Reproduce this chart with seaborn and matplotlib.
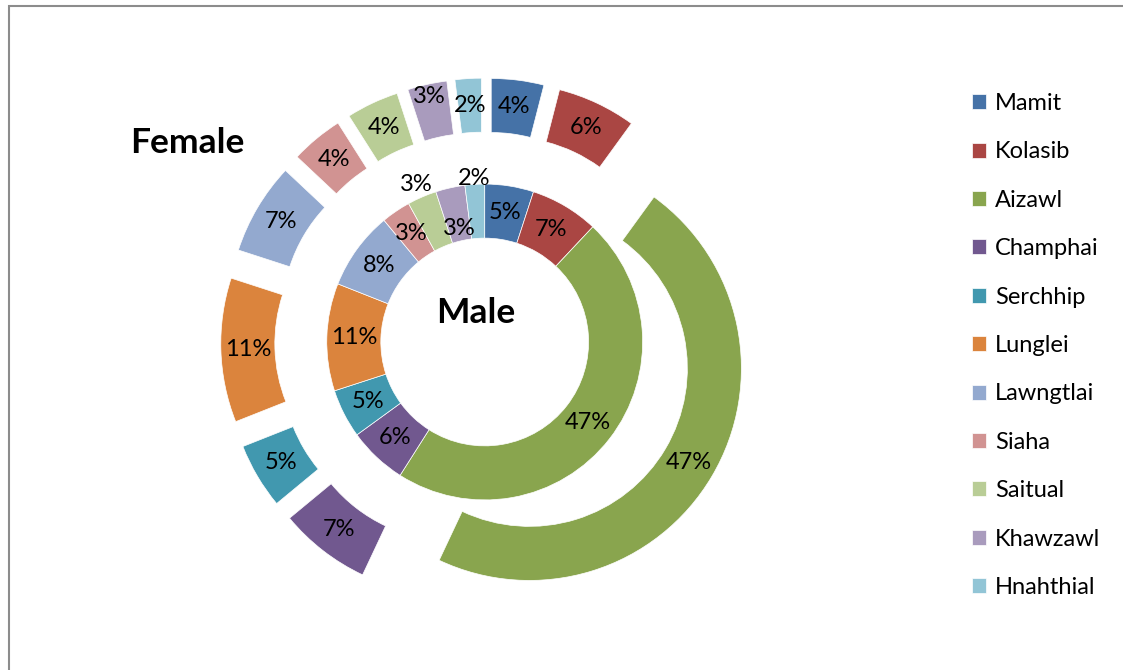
import matplotlib
matplotlib.use("Agg")
import matplotlib.pyplot as plt
import seaborn as sns
from matplotlib.patches import Rectangle

# district shares (%)
districts = ["Mamit", "Kolasib", "Aizawl", "Champhai", "Serchhip", "Lunglei",
             "Lawngtlai", "Siaha", "Saitual", "Khawzawl", "Hnahthial"]
male_pct = [5, 7, 47, 6, 5, 11, 8, 3, 3, 3, 2]
female_pct = [4, 6, 47, 7, 5, 11, 7, 4, 4, 3, 2]
colours = ["#4572A7", "#AA4643", "#89A54E", "#71588F", "#4198AF", "#DB843D",
           "#93A9CF", "#D19392", "#B9CD96", "#A99BBD", "#92C5D6"]

sns.set_theme(style="white")
plt.rcParams["font.family"] = ["Lato", "DejaVu Sans"]
palette = sns.color_palette(colours)

W, H = 1123, 670
fig = plt.figure(figsize=(W / 100, H / 100), dpi=100)
ax = fig.add_axes([0, 0, 1, 1])

scale = 212.0          # pixels per unit radius
cx, cy = 484.7, 342.0  # donut centre in pixels (from top left)

label_font = dict(fontsize=17, color="black")

# outer ring = Female, exploded
outer_w, _, outer_t = ax.pie(
    female_pct, radius=1.0, colors=palette, startangle=90, counterclock=False,
    explode=[0.245] * len(female_pct), autopct="%.0f%%", pctdistance=0.873,
    wedgeprops=dict(width=0.255, edgecolor="white", linewidth=0.5),
    textprops=label_font)

# inner ring = Male
inner_w, _, inner_t = ax.pie(
    male_pct, radius=0.745, colors=palette, startangle=90, counterclock=False,
    autopct="%.0f%%", pctdistance=0.829,
    wedgeprops=dict(width=0.255, edgecolor="white", linewidth=0.5),
    textprops=label_font)

# nudge the crowded small labels like the original does
for idx, f in [(8, 1.31), (9, 0.89), (10, 1.25)]:
    x, y = inner_t[idx].get_position()
    inner_t[idx].set_position((x * f, y * f))
c = outer_w[9].center
x, y = outer_t[9].get_position()
outer_t[9].set_position((c[0] + (x - c[0]) * 1.08, c[1] + (y - c[1]) * 1.08))

ax.set_xlim(-cx / scale, (W - cx) / scale)
ax.set_ylim(-(H - cy) / scale, cy / scale)
ax.set_aspect("equal", adjustable="box")
ax.axis("off")

fig.text(187 / W, 1 - 143 / H, "Female", fontsize=25.5, fontweight="bold",
         color="black", ha="center", va="center")
fig.text(476 / W, 1 - 313 / H, "Male", fontsize=25.5, fontweight="bold",
         color="black", ha="center", va="center")

fig.legend(handles=inner_w, labels=districts, loc="upper left",
           bbox_to_anchor=(972 / W, 1 - 93 / H), frameon=False,
           fontsize=17, handlelength=0.6, handleheight=0.6,
           handletextpad=0.38, labelspacing=1.16, borderpad=0,
           borderaxespad=0, labelcolor="black")

# chart area border (right/bottom edges fall outside the picture)
fig.patches.append(Rectangle((9 / W, -0.1), 1.2, 1 - 6 / H + 0.1,
                             transform=fig.transFigure, fill=False,
                             edgecolor="#8c8c8c", linewidth=1.5))

fig.savefig("out.png", dpi=100)
